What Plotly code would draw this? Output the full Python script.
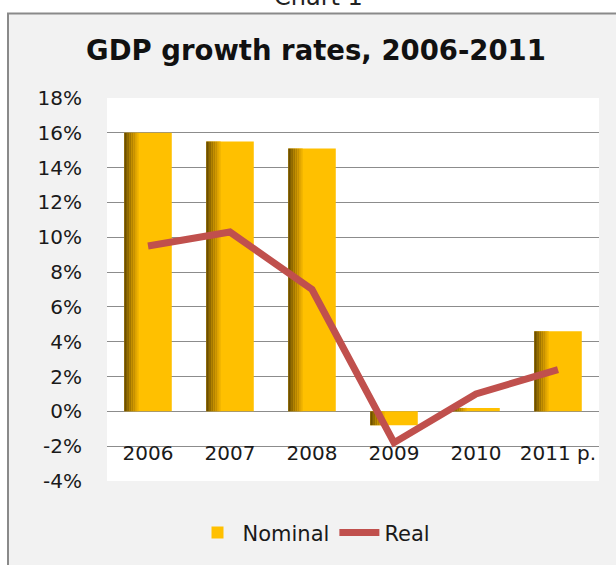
import plotly.graph_objects as go

years = ["2006", "2007", "2008", "2009", "2010", "2011 p."]
nominal = [16.0, 15.5, 15.1, -0.8, 0.2, 4.6]
real = [9.5, 10.3, 7.0, -1.8, 1.0, 2.4]
y_ticks = [-4, -2, 0, 2, 4, 6, 8, 10, 12, 14, 16, 18]
y_tick_labels = ["-4%", "-2%", "0%", "2%", "4%", "6%", "8%", "10%", "12%", "14%", "16%", "18%"]

FONT = "DejaVu Sans"
GOLD = "#FFC000"
BAR_W = 0.58

fig = go.Figure()

fig.add_trace(go.Bar(
    x=years, y=nominal, name="Nominal", width=BAR_W,
    marker=dict(color=GOLD, line=dict(width=0)),
    showlegend=True,
))

# left-edge shading strips (gradient imitation)
shades = ["#6e5000", "#7f5d00", "#906900", "#a27600", "#b48300", "#c79100", "#dba100", "#edb000"]
strip = 0.022
for i, c in enumerate(shades):
    fig.add_trace(go.Bar(
        x=years, y=nominal, width=strip,
        offset=-BAR_W / 2 + i * strip,
        marker=dict(color=c, line=dict(width=0)),
        showlegend=False, hoverinfo="skip",
    ))

fig.add_trace(go.Scatter(
    x=years, y=real, name="Real", mode="lines",
    line=dict(color="#C0504D", width=7),
))

FW, FH = 616, 565
L, R, T, B = 107, 17, 98, 82
W, H = FW - L - R, FH - T - B

def px_x(p):
    return (p - L) / W

def px_y(p):
    return (FH - B - p) / H

shapes = [
    dict(type="rect", xref="paper", yref="paper", layer="below",
         x0=px_x(8), x1=px_x(640), y0=px_y(590), y1=px_y(13),
         fillcolor="#f2f2f2", line=dict(color="#8a8a8a", width=2)),
    dict(type="rect", xref="paper", yref="paper", layer="below",
         x0=0, x1=1, y0=0, y1=1, fillcolor="white", line=dict(width=0)),
]

fig.update_layout(
    width=FW, height=FH,
    margin=dict(l=L, r=R, t=T, b=B),
    paper_bgcolor="white",
    plot_bgcolor="rgba(0,0,0,0)",
    barmode="overlay",
    shapes=shapes,
    font=dict(family=FONT, size=20, color="#1a1a1a"),
    title=dict(text="<b>GDP growth rates, 2006-2011</b>", x=316 / FW, xref="container",
               xanchor="center", y=1 - 50 / FH, yanchor="middle",
               font=dict(family=FONT, size=27.5, color="#111111")),
    annotations=[dict(text="Chart 1", xref="paper", yref="paper",
                      x=px_x(318), y=px_y(-4), xanchor="center", yanchor="middle",
                      showarrow=False, font=dict(family=FONT, size=24, color="#222222"))],
    legend=dict(orientation="h", x=px_x(314), xanchor="center", y=px_y(535), yanchor="middle",
                font=dict(family=FONT, size=21, color="#1a1a1a"),
                bgcolor="rgba(0,0,0,0)", itemwidth=40, traceorder="normal"),
    hovermode=False,
)

fig.update_yaxes(
    range=[-4, 18], tickvals=y_ticks, ticktext=y_tick_labels,
    showgrid=True, gridcolor="#8c8c8c", gridwidth=1,
    zeroline=True, zerolinecolor="#8c8c8c", zerolinewidth=1,
    showline=False, ticks="", ticklabelstandoff=24,
    tickfont=dict(family=FONT, size=20, color="#1a1a1a"),
)
fig.update_xaxes(
    anchor="free", position=px_y(441),
    showgrid=False, showline=False, ticks="", zeroline=False,
    tickfont=dict(family=FONT, size=20, color="#1a1a1a"),
)

fig.write_html("out.html",
               config={"displayModeBar": False, "staticPlot": True},
               post_script="document.body.style.margin='0';document.body.style.padding='0';")
